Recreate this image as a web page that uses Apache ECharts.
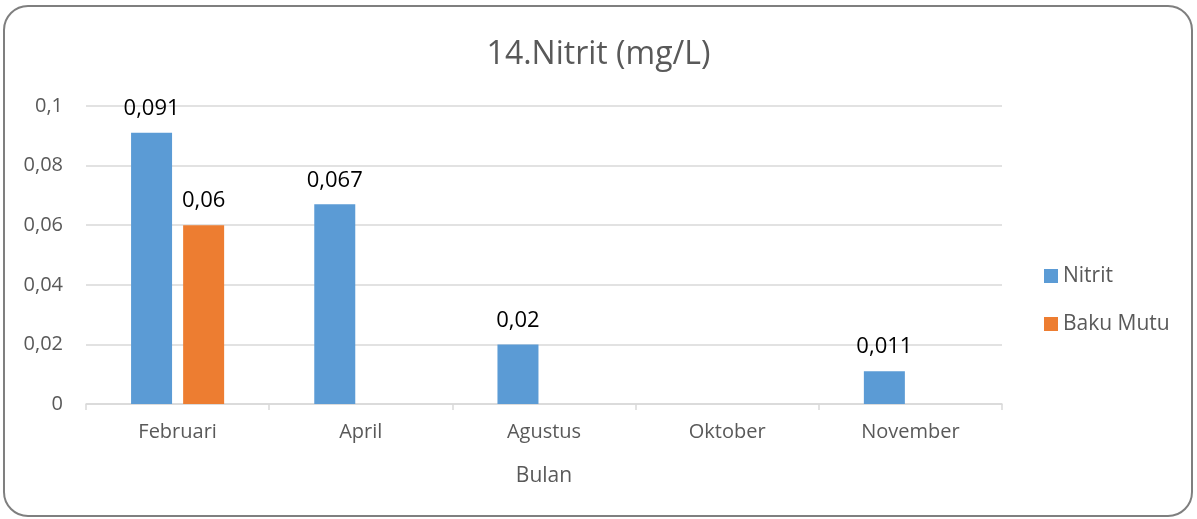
<!DOCTYPE html>
<html>
<head>
<meta charset="utf-8">
<script src="https://cdn.jsdelivr.net/npm/echarts@6/dist/echarts.min.js"></script>
<style>
  html, body { margin: 0; padding: 0; background: #fff; }
  #chart { width: 1197px; height: 519px; }
</style>
</head>
<body>
<div id="chart"></div>
<script>
// data
var months = ['Februari', 'April', 'Agustus', 'Oktober', 'November']
var nitrit = [0.091, 0.067, 0.02, null, 0.011]
var bakuMutu = [0.06, null, null, null, null]
var yTicks = [0, 0.02, 0.04, 0.06, 0.08, 0.1]

var font = '"Open Sans", "Noto Sans", sans-serif'
var comma = function (v) { return String(v).replace('.', ',') }

var chart = echarts.init(document.getElementById('chart'))
chart.setOption({
  backgroundColor: '#fff',
  textStyle: { fontFamily: font },
  title: {
    text: '14.Nitrit (mg/L)',
    left: 'center',
    top: 34,
    textStyle: { fontSize: 32, fontWeight: 'normal', color: '#595959', fontFamily: font }
  },
  graphic: [{
    type: 'rect',
    shape: { x: 4, y: 6, width: 1188, height: 510, r: 24 },
    style: { fill: 'none', stroke: '#7f7f7f', lineWidth: 2 },
    z: 100
  }],
  legend: {
    orient: 'vertical',
    left: 1039,
    top: 260,
    itemWidth: 14,
    itemHeight: 14,
    itemGap: 26,
    icon: 'rect',
    textStyle: { fontSize: 21, lineHeight: 22, color: '#595959', fontFamily: font },
    data: ['Nitrit', 'Baku Mutu']
  },
  grid: { left: 86, right: 195, top: 106, bottom: 115 },
  xAxis: {
    type: 'category',
    data: months,
    name: 'Bulan',
    nameLocation: 'middle',
    nameGap: 62,
    nameTextStyle: { fontSize: 21, color: '#595959' },
    axisLine: { lineStyle: { color: '#d9d9d9', width: 1.5 } },
    axisTick: { show: true, length: 6, lineStyle: { color: '#d9d9d9', width: 1.5 } },
    axisLabel: { fontSize: 20, color: '#595959', margin: 18 }
  },
  yAxis: {
    type: 'value',
    min: yTicks[0],
    max: yTicks[yTicks.length - 1],
    interval: 0.02,
    axisLine: { show: false },
    axisTick: { show: false },
    splitLine: { lineStyle: { color: '#d9d9d9', width: 1.5 } },
    axisLabel: { fontSize: 20, color: '#595959', margin: 23, formatter: comma }
  },
  series: [{
    name: 'Nitrit',
    type: 'bar',
    data: nitrit,
    barWidth: 41,
    barGap: '27%',
    itemStyle: { color: '#5b9bd5' },
    label: { show: true, position: 'top', distance: 13, fontSize: 22, color: '#000', formatter: function (p) { return comma(p.value) } }
  }, {
    name: 'Baku Mutu',
    type: 'bar',
    data: bakuMutu,
    barWidth: 41,
    itemStyle: { color: '#ed7d31' },
    label: { show: true, position: 'top', distance: 13, fontSize: 22, color: '#000', formatter: function (p) { return comma(p.value) } }
  }]
})
</script>
</body>
</html>
